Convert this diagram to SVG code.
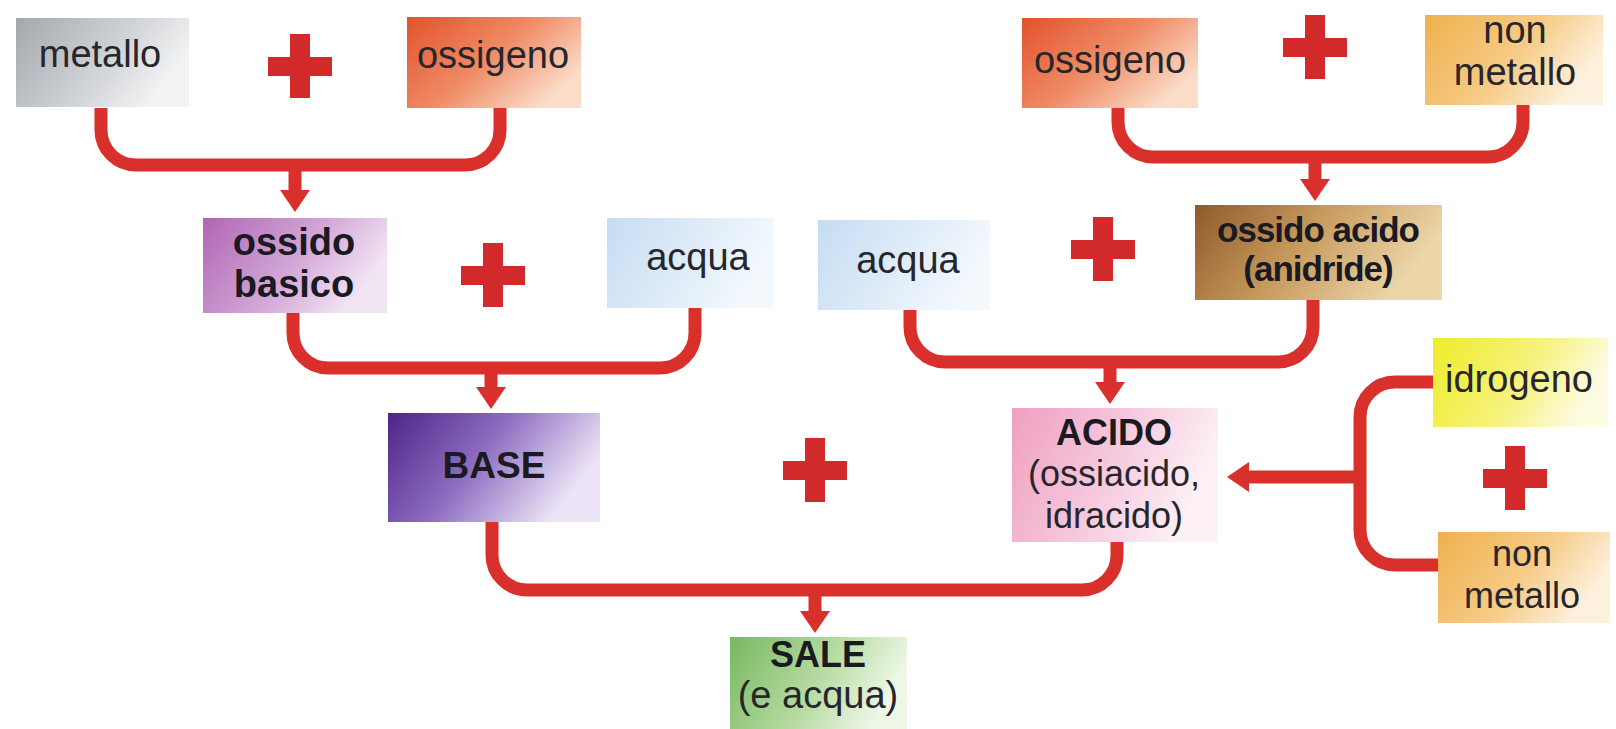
<svg xmlns="http://www.w3.org/2000/svg" width="1616" height="729" viewBox="0 0 1616 729">
  <defs>
    <style>
      .t { font-family: "Liberation Sans", Arial, sans-serif; font-size: 38px; fill: #26262c; text-anchor: middle; }
      .s { font-size: 36px; }
      .b { font-weight: bold; fill: #1a1a22; }
      .c { fill: none; stroke: #d9302b; stroke-width: 13; stroke-linejoin: round; }
      .a { fill: none; stroke: #d9302b; stroke-width: 13; marker-end: url(#ah); }
      .p { fill: #d22a2a; }
    </style>
    <marker id="ah" viewBox="0 0 22 30" refX="2" refY="15" markerWidth="22" markerHeight="30" markerUnits="userSpaceOnUse" orient="auto">
      <path d="M0,0 L22,15 L0,30 Z" fill="#d9302b"/>
    </marker>
    <linearGradient id="gMet" x1="0" y1="0" x2="1" y2="0.4">
      <stop offset="0" stop-color="#a4a8ad"/><stop offset="0.6" stop-color="#cfd2d6"/><stop offset="1" stop-color="#f2f3f4"/>
    </linearGradient>
    <linearGradient id="gOss" x1="0" y1="0" x2="1" y2="0.6">
      <stop offset="0" stop-color="#e2522c"/><stop offset="0.55" stop-color="#ef8c66"/><stop offset="1" stop-color="#fbdcc8"/>
    </linearGradient>
    <linearGradient id="gNon" x1="0" y1="0" x2="1" y2="0.4">
      <stop offset="0" stop-color="#efb04e"/><stop offset="0.6" stop-color="#f6cc88"/><stop offset="1" stop-color="#fdf0dc"/>
    </linearGradient>
    <linearGradient id="gOB" x1="0" y1="0" x2="1" y2="0.4">
      <stop offset="0" stop-color="#b065b5"/><stop offset="0.6" stop-color="#d3a8d8"/><stop offset="1" stop-color="#f1e4f3"/>
    </linearGradient>
    <linearGradient id="gAcq" x1="0" y1="0" x2="1" y2="0.3">
      <stop offset="0" stop-color="#c6dcf2"/><stop offset="1" stop-color="#f3f8fd"/>
    </linearGradient>
    <linearGradient id="gOA" x1="0" y1="0" x2="1" y2="0.3">
      <stop offset="0" stop-color="#8e5a2c"/><stop offset="0.5" stop-color="#c89a5c"/><stop offset="1" stop-color="#ecd6aa"/>
    </linearGradient>
    <linearGradient id="gBase" x1="0" y1="0" x2="1" y2="0.4">
      <stop offset="0" stop-color="#4e2488"/><stop offset="0.5" stop-color="#8c6cc0"/><stop offset="1" stop-color="#ece4f6"/>
    </linearGradient>
    <linearGradient id="gAc" x1="0" y1="0" x2="1" y2="0.3">
      <stop offset="0" stop-color="#ef9fc0"/><stop offset="0.6" stop-color="#f7cde0"/><stop offset="1" stop-color="#fdf0f6"/>
    </linearGradient>
    <linearGradient id="gId" x1="0" y1="0" x2="1" y2="0.3">
      <stop offset="0" stop-color="#eeec2a"/><stop offset="0.6" stop-color="#f6f27e"/><stop offset="1" stop-color="#fdfbe0"/>
    </linearGradient>
    <linearGradient id="gSale" x1="0" y1="0" x2="1" y2="0.3">
      <stop offset="0" stop-color="#78b860"/><stop offset="0.6" stop-color="#b8dca4"/><stop offset="1" stop-color="#eef7e6"/>
    </linearGradient>
  </defs>
  <rect width="1616" height="729" fill="#ffffff"/>

  <g id="connectors">
    <path class="c" d="M101,108 V130 A35,35 0 0 0 136,165 H465 A35,35 0 0 0 500,130 V108"/>
    <path class="a" d="M295,165 V192"/>
    <path class="c" d="M1118,108 V122 A35,35 0 0 0 1153,157 H1488 A35,35 0 0 0 1523,122 V105"/>
    <path class="a" d="M1315,157 V181"/>
    <path class="c" d="M293,313 V333 A35,35 0 0 0 328,368 H660 A35,35 0 0 0 695,333 V308"/>
    <path class="a" d="M491,368 V389"/>
    <path class="c" d="M910,310 V327 A35,35 0 0 0 945,362 H1278 A35,35 0 0 0 1313,327 V300"/>
    <path class="a" d="M1110,362 V384"/>
    <path class="c" d="M492,522 V555 A35,35 0 0 0 527,590 H1082 A35,35 0 0 0 1117,555 V542"/>
    <path class="a" d="M815,590 V613"/>
    <path class="c" d="M1434,382 H1395 A35,35 0 0 0 1360,417 V530 A35,35 0 0 0 1395,565 H1438"/>
    <path class="a" d="M1360,477 H1247"/>
  </g>

  <g id="plus-signs">
    <g id="plus1"><rect class="p" x="268" y="57" width="64" height="19"/><rect class="p" x="290" y="34" width="20" height="64"/></g>
    <g id="plus2"><rect class="p" x="1283" y="38" width="64" height="19"/><rect class="p" x="1305" y="15" width="20" height="64"/></g>
    <g id="plus3"><rect class="p" x="461" y="266" width="64" height="19"/><rect class="p" x="483" y="243" width="20" height="64"/></g>
    <g id="plus4"><rect class="p" x="1071" y="240" width="64" height="19"/><rect class="p" x="1093" y="217" width="20" height="64"/></g>
    <g id="plus5"><rect class="p" x="783" y="461" width="64" height="19"/><rect class="p" x="805" y="438" width="20" height="64"/></g>
    <g id="plus6"><rect class="p" x="1483" y="469" width="64" height="19"/><rect class="p" x="1505" y="446" width="20" height="64"/></g>
  </g>

  <g id="metallo">
    <rect x="16" y="18" width="173" height="89" fill="url(#gMet)"/>
    <text class="t" x="100" y="67">metallo</text>
  </g>
  <g id="ossigeno-1">
    <rect x="407" y="17" width="174" height="91" fill="url(#gOss)"/>
    <text class="t" x="493" y="68">ossigeno</text>
  </g>
  <g id="ossigeno-2">
    <rect x="1022" y="18" width="176" height="90" fill="url(#gOss)"/>
    <text class="t" x="1110" y="73">ossigeno</text>
  </g>
  <g id="non-metallo-1">
    <rect x="1425" y="15" width="178" height="90" fill="url(#gNon)"/>
    <text class="t" x="1515" y="43">non</text>
    <text class="t" x="1515" y="85">metallo</text>
  </g>
  <g id="ossido-basico">
    <rect x="203" y="218" width="184" height="95" fill="url(#gOB)"/>
    <text class="t b" x="294" y="255">ossido</text>
    <text class="t b" x="294" y="297">basico</text>
  </g>
  <g id="acqua-1">
    <rect x="607" y="218" width="166" height="90" fill="url(#gAcq)"/>
    <text class="t" x="698" y="270">acqua</text>
  </g>
  <g id="acqua-2">
    <rect x="818" y="220" width="172" height="90" fill="url(#gAcq)"/>
    <text class="t" x="908" y="273">acqua</text>
  </g>
  <g id="ossido-acido">
    <rect x="1195" y="205" width="247" height="95" fill="url(#gOA)"/>
    <text class="t b" x="1318" y="242" style="font-size:35px;letter-spacing:-1px">ossido acido</text>
    <text class="t b" x="1318" y="281" style="font-size:35px;letter-spacing:-1px">(anidride)</text>
  </g>
  <g id="base">
    <rect x="388" y="413" width="212" height="109" fill="url(#gBase)"/>
    <text class="t b" x="494" y="478" style="font-size:37px">BASE</text>
  </g>
  <g id="acido">
    <rect x="1012" y="408" width="206" height="134" fill="url(#gAc)"/>
    <text class="t b" x="1114" y="445" style="font-size:36px">ACIDO</text>
    <text class="t s" x="1114" y="486">(ossiacido,</text>
    <text class="t s" x="1114" y="528">idracido)</text>
  </g>
  <g id="idrogeno">
    <rect x="1433" y="338" width="175" height="89" fill="url(#gId)"/>
    <text class="t" x="1519" y="392">idrogeno</text>
  </g>
  <g id="non-metallo-2">
    <rect x="1438" y="532" width="172" height="91" fill="url(#gNon)"/>
    <text class="t s" x="1522" y="566">non</text>
    <text class="t s" x="1522" y="608">metallo</text>
  </g>
  <g id="sale">
    <rect x="730" y="637" width="177" height="92" fill="url(#gSale)"/>
    <text class="t b" x="818" y="667" style="font-size:36px">SALE</text>
    <text class="t" x="818" y="708">(e acqua)</text>
  </g>
</svg>
